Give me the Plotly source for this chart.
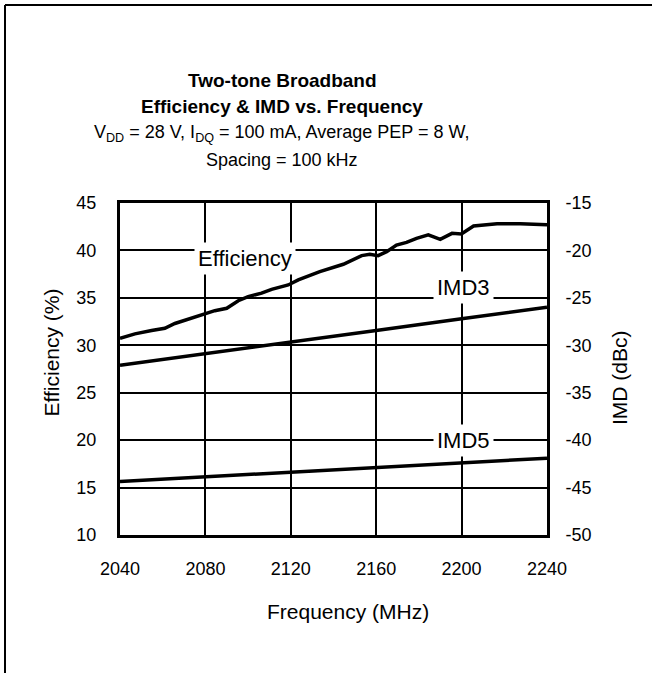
import plotly.graph_objects as go

# Efficiency curve (%)
freq_eff = [2040, 2047, 2054.8, 2061, 2065.7, 2073.5, 2079.4, 2084.4, 2090, 2095.4,
            2100, 2106.3, 2111, 2118.8, 2123.5, 2133.6, 2144.6, 2153.2, 2157, 2160.9,
            2164.9, 2169.5, 2174.2, 2178.9, 2184.4, 2190, 2195.5, 2199.9, 2205.6,
            2211.9, 2216.6, 2227.5, 2240]
efficiency = [30.74, 31.2, 31.55, 31.8, 32.3, 32.85, 33.27, 33.65, 33.9, 34.7,
              35.13, 35.5, 35.9, 36.36, 36.9, 37.76, 38.54, 39.45, 39.6, 39.45,
              39.87, 40.57, 40.85, 41.28, 41.65, 41.17, 41.8, 41.73, 42.57,
              42.65, 42.8, 42.8, 42.7]

# IMD curves (dBc)
freq_imd = [2040, 2080, 2120, 2160, 2200, 2240]
imd3 = [-32.1, -30.9, -29.7, -28.45, -27.2, -26.0]
imd5 = [-44.36, -43.85, -43.35, -42.85, -42.4, -41.9]

x_ticks = [2040, 2080, 2120, 2160, 2200, 2240]
y_left_ticks = [10, 15, 20, 25, 30, 35, 40, 45]
y_right_ticks = [-50, -45, -40, -35, -30, -25, -20, -15]
y_right_labels = ["-50", "-45", "-40", "-35", "-30", "-25", "-20", "-15"]

FONT = "Liberation Sans, Arial, sans-serif"
L, R, T, B = 120, 105, 203, 138
W, H = 652, 673
PW, PH = W - L - R, H - T - B


def px(x):
    return (x - L) / PW


def py(y):
    return (H - B - y) / PH


fig = go.Figure()
fig.add_trace(go.Scatter(x=freq_eff, y=efficiency, mode="lines",
                         line=dict(color="black", width=3.5), yaxis="y"))
fig.add_trace(go.Scatter(x=freq_imd, y=imd3, mode="lines",
                         line=dict(color="black", width=3.5), yaxis="y2"))
fig.add_trace(go.Scatter(x=freq_imd, y=imd5, mode="lines",
                         line=dict(color="black", width=3.5), yaxis="y2"))

axis_common = dict(showline=True, linecolor="black", linewidth=3, zeroline=False,
                   tickfont=dict(family=FONT, size=18, color="black"),
                   ticks="outside", tickcolor="rgba(0,0,0,0)")

fig.update_layout(
    width=W, height=H,
    margin=dict(l=L, r=R, t=T, b=B),
    paper_bgcolor="white", plot_bgcolor="white",
    showlegend=False,
    xaxis=dict(range=[2040, 2240], tickvals=x_ticks, showgrid=True,
               gridcolor="black", gridwidth=2, mirror=True, ticklen=15,
               **axis_common),
    yaxis=dict(range=[10, 45], tickvals=y_left_ticks, showgrid=True,
               gridcolor="black", gridwidth=2, mirror=True, ticklen=17,
               **axis_common),
    yaxis2=dict(range=[-50, -15], tickvals=y_right_ticks, ticktext=y_right_labels,
                overlaying="y", side="right", showgrid=False, ticklen=12,
                **axis_common),
)

ann = []
title_x = px(282)
ann.append(dict(text="<b>Two-tone Broadband</b>", x=title_x, y=py(80)))
ann.append(dict(text="<b>Efficiency &amp; IMD vs. Frequency</b>", x=title_x, y=py(107)))
for a in ann:
    a.update(font=dict(family=FONT, size=19, color="black"))
ann.append(dict(text="V<sub>DD</sub> = 28 V, I<sub>DQ</sub> = 100 mA, Average PEP = 8 W,",
                x=title_x, y=py(133), font=dict(family=FONT, size=18, color="black")))
ann.append(dict(text="Spacing = 100 kHz", x=title_x, y=py(160),
                font=dict(family=FONT, size=18, color="black")))
ann.append(dict(text="Efficiency (%)", x=px(51), y=py(352.5), textangle=-90,
                font=dict(family=FONT, size=21, color="black")))
ann.append(dict(text="IMD (dBc)", x=px(619), y=py(378), textangle=-90,
                font=dict(family=FONT, size=21, color="black")))
ann.append(dict(text="Frequency (MHz)", x=px(348), y=py(611.5),
                font=dict(family=FONT, size=21, color="black")))
for a in ann:
    a.update(xref="paper", yref="paper", showarrow=False, xanchor="center", yanchor="middle")

labels = [("Efficiency", 2098.5, 39.2), ("IMD3", 2201, 36.1), ("IMD5", 2201, 20.0)]
for txt, xv, yv in labels:
    ann.append(dict(text=txt, x=xv, y=yv, xref="x", yref="y", showarrow=False,
                    xanchor="center", yanchor="middle", bgcolor="white", borderpad=3,
                    font=dict(family=FONT, size=22, color="black")))

fig.update_layout(annotations=ann)

# outer frame (top and left edges)
fig.add_shape(type="line", xref="paper", yref="paper", x0=px(5), x1=px(652),
              y0=py(5), y1=py(5), line=dict(color="black", width=2))
fig.add_shape(type="line", xref="paper", yref="paper", x0=px(5), x1=px(5),
              y0=py(5), y1=py(673), line=dict(color="black", width=2))

fig.write_html("out.html", config={"displayModeBar": False},
               post_script="document.body.style.margin='0';document.body.style.overflow='hidden';")
